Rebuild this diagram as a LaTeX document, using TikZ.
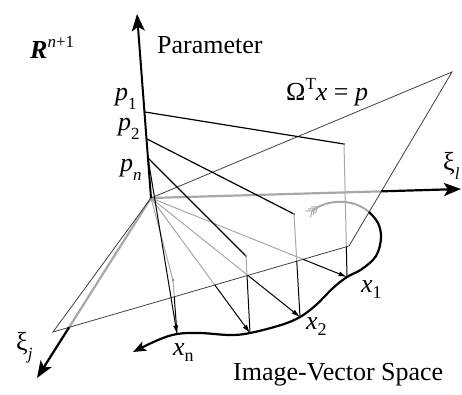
\documentclass[tikz,border=0pt]{standalone}
\usepackage{fontspec}
\setmainfont{Liberation Serif}
\usetikzlibrary{arrows.meta,calc}
\newcommand{\sbs}[1]{\raisebox{-0.36em}{\fontsize{17}{20}\selectfont #1}}
\newcommand{\sbx}[1]{\raisebox{-0.25em}{\fontsize{18}{20}\selectfont #1}}
\newcommand{\sps}[1]{\raisebox{0.42em}{\fontsize{17}{20}\selectfont #1}}
\definecolor{lgray}{gray}{0.66}
\definecolor{pgray}{gray}{0.25}
\begin{document}
\begin{tikzpicture}[x=1pt,y=-1pt,
  lbl/.style={anchor=base west,inner sep=0pt,font=\fontsize{26}{30}\selectfont},
  planeedge/.style={draw=pgray,line width=0.8pt},
  hid/.style={draw=lgray,line width=1pt},
  vis/.style={draw=black,line width=1pt},
  plink/.style={draw=black,line width=1.2pt},
  axgray/.style={draw=lgray,line width=2.2pt},
  axblack/.style={draw=black,line width=2.2pt,-{Stealth[length=17pt,width=13pt,inset=4pt]}},
  smallarr/.style={-{Latex[length=8.5pt,width=5pt]}},
  dotp/.style={fill=gray,inner sep=0pt,minimum size=2.6pt}
]
\useasboundingbox (0,0) rectangle (462,394);
% points
\coordinate (O) at (151,198);
\coordinate (Ptop) at (137,14);
\coordinate (P1) at (145,112);
\coordinate (P2) at (147,139);
\coordinate (Pn) at (148,158);
\coordinate (Ltip) at (461,189);
\coordinate (Jtip) at (37,378);
\coordinate (TR) at (452,72);
\coordinate (BR) at (349,246);
\coordinate (BL) at (53,332);
\coordinate (A1) at (344,144);
\coordinate (A2) at (294,214);
\coordinate (A3) at (246,256);
\coordinate (A4) at (173,280);
\coordinate (X1) at (347,277);
\coordinate (X2) at (300,317);
\coordinate (X3) at (250,333);
\coordinate (X4) at (177,334);
\coordinate (Cl) at (intersection of O--Ltip and TR--BR);
\coordinate (Cj) at (intersection of O--Jtip and BR--BL);
\coordinate (C1) at (intersection of O--X1 and BR--BL);
\coordinate (C2) at (intersection of O--X2 and BR--BL);
\coordinate (C3) at (intersection of O--X3 and BR--BL);
\coordinate (V1) at (intersection of A1--X1 and BR--BL);
\coordinate (V2) at (intersection of A2--X2 and BR--BL);
\coordinate (V3) at (intersection of A3--X3 and BR--BL);
\coordinate (V4) at (intersection of A4--X4 and BR--BL);
\coordinate (T) at (312,211);
\coordinate (E) at (369,212);
\coordinate (Cend) at (133,352);
% hidden (seen through the plane) parts
\draw[axgray] (O) -- (Cl);
\draw[axgray] (O) -- (Cj);
\draw[hid] (O) -- (C1);
\draw[hid] (O) -- (C2);
\draw[hid] (O) -- (C3);
\draw[hid] (O) -- (A4);
\draw[hid] (A1) -- (V1);
\draw[hid] (A2) -- (V2);
\draw[hid] (A3) -- (V3);
\draw[hid] (A4) -- (V4);
\draw[draw=lgray,line width=2pt] (T) .. controls (327,199) and (353,198) .. (E);
\foreach \k in {0,1,2}{
  \draw[draw=lgray,line width=1pt] ($(T)+(\k*2.6,-\k*2)+(-1.5,6.2)$) -- ($(T)+(\k*2.6,-\k*2)$) -- ($(T)+(\k*2.6,-\k*2)+(-6.4,-0.1)$);
}
% plane
\draw[planeedge] (O) -- (TR) -- (BR) -- (BL) -- cycle;
% visible lines
\draw[plink] (P1) -- (A1);
\draw[plink] (P2) -- (A2);
\draw[plink] (Pn) -- (A3);
\draw[vis] (V1) -- (X1);
\draw[vis] (V2) -- (X2);
\draw[vis] (V3) -- (X3);
\draw[vis] (V4) -- (X4);
\draw[vis,smallarr] (C1) -- (X1);
\draw[vis,smallarr] (C2) -- (X2);
\draw[vis,smallarr] (C3) -- (X3);
\draw[vis,smallarr] (Pn) -- (X4);
% axes
\draw[axblack,line width=2pt] (O) -- (Ptop);
\draw[axblack] (Cl) -- (Ltip);
\draw[axblack] (Cj) -- (Jtip);
% curve
\draw[line width=2.2pt,-{Stealth[length=13pt,width=10pt,inset=3pt]}] plot[smooth,tension=0.6] coordinates {(E) (378,223) (381,238) (376,256) (362,269) (X1) (333,288) (316,305) (X2) (281,325) (X3) (230,335) (200,333) (X4) (158,340) (Cend)};
% dots
\node[dotp] (dA1) at (A1) {};
\node[dotp] (dA2) at (A2) {};
\node[dotp] (dA3) at (A3) {};
\node[dotp] (dA4) at (A4) {};
% labels
\node[lbl] (tR) at (30,58) {\textbf{\textit{R}}\sps{\textit{n}+1}};
\node[lbl] (tParam) at (157,53) {Parameter};
\node[lbl] (tOm) at (286,100) {Ω\sps{T}\textit{x} = \textit{p}};
\node[lbl] (tL) at (443,170) {ξ\sbs{\textit{l}}};
\node[lbl] (tJ) at (16,350) {ξ\sbs{\textit{j}}};
\node[lbl] (tp1) at (115,100) {\textit{p}\sbs{1}};
\node[lbl] (tp2) at (118,130) {\textit{p}\sbs{2}};
\node[lbl] (tpn) at (120,171) {\textit{p}\sbs{\textit{n}}};
\node[lbl] (tx1) at (361,292) {\textit{x}\sbx{1}};
\node[lbl] (tx2) at (306,329) {\textit{x}\sbx{2}};
\node[lbl] (txn) at (173,355) {\textit{x}\sbx{n}};
\node[lbl] (tIV) at (233,380) {Image-Vector Space};
\end{tikzpicture}
\end{document}
